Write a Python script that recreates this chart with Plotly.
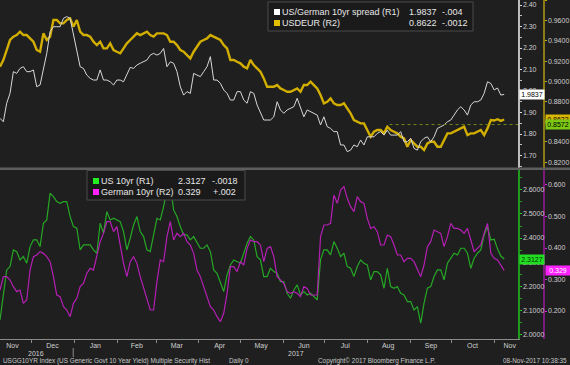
import pandas as pd
import plotly.graph_objects as go

# ---------------- data ----------------
START, END = "2016-11-08", "2017-11-08"

spread = [  # US/German 10yr spread (R1)
    1.873, 1.857, 1.943, 1.989, 2.090, 2.082, 2.105, 2.113, 2.090, 2.090,
    2.098, 2.020, 2.028, 2.105, 2.175, 2.276, 2.299, 2.299, 2.299, 2.338,
    2.346, 2.338, 2.260, 2.183, 2.113, 2.105, 2.074, 2.059, 2.051, 2.051,
    2.098, 2.051, 2.051, 2.043, 2.028, 2.051, 2.051, 2.043, 2.074, 2.110,
    2.105, 2.121, 2.129, 2.136, 2.144, 2.167, 2.175, 2.167, 2.175, 2.198,
    2.113, 2.136, 2.129, 2.090, 2.020, 1.981, 1.997, 1.989, 2.082, 2.074,
    2.067, 2.090, 2.113, 2.160, 2.051, 2.051, 2.036, 2.005, 1.989, 1.958,
    1.958, 1.997, 1.997, 1.958, 1.943,
    1.997, 1.989, 1.935, 1.896, 1.865, 1.865, 1.865, 1.880, 1.950, 1.912,
    1.896, 1.912, 1.919, 1.927, 1.966, 1.927, 1.880, 1.912, 1.904, 1.896,
    1.888, 1.842, 1.880, 1.834, 1.826, 1.811, 1.811, 1.749, 1.749, 1.718,
    1.725, 1.749, 1.741, 1.772, 1.749, 1.787, 1.787, 1.787, 1.803, 1.811,
    1.795, 1.818, 1.795, 1.795, 1.795, 1.811, 1.764, 1.764, 1.780, 1.733,
    1.725, 1.764, 1.780, 1.787, 1.764, 1.787, 1.826, 1.834, 1.842, 1.857,
    1.865, 1.888, 1.912, 1.927, 1.912, 1.888, 1.935, 1.950, 1.950, 1.958,
    1.989, 2.043, 2.035,
    2.005, 2.014, 1.981, 1.984,
]

usdeur = [  # USDEUR (R2)
    0.9145, 0.9211, 0.9310, 0.9409, 0.9442, 0.9458, 0.9491, 0.9458, 0.9458, 0.9425,
    0.9392, 0.9310, 0.9293, 0.9475, 0.9409, 0.9442, 0.9607, 0.9607, 0.9574, 0.9574,
    0.9607, 0.9623, 0.9541, 0.9607, 0.9491, 0.9458, 0.9458, 0.9442, 0.9392, 0.9359,
    0.9392, 0.9326, 0.9326, 0.9376, 0.9310, 0.9293, 0.9277, 0.9326, 0.9376, 0.9409,
    0.9442, 0.9475, 0.9458, 0.9475, 0.9491, 0.9458, 0.9442, 0.9475, 0.9475, 0.9475,
    0.9458, 0.9392, 0.9392, 0.9359, 0.9310, 0.9293, 0.9260, 0.9227, 0.9293, 0.9343,
    0.9392, 0.9409, 0.9425, 0.9458, 0.9442, 0.9425, 0.9409, 0.9359, 0.9326, 0.9211,
    0.9211, 0.9194, 0.9178, 0.9145, 0.9128,
    0.9211, 0.9161, 0.9128, 0.9095, 0.9029, 0.8947, 0.8947, 0.8947, 0.8963, 0.8930,
    0.8914, 0.8897, 0.8897, 0.8914, 0.8930, 0.8897, 0.8963, 0.8963, 0.8996, 0.8963,
    0.8930, 0.8864, 0.8782, 0.8798, 0.8831, 0.8782, 0.8765, 0.8765, 0.8782, 0.8732,
    0.8683, 0.8617, 0.8600, 0.8584, 0.8584, 0.8518, 0.8452, 0.8501, 0.8518, 0.8518,
    0.8485, 0.8551, 0.8518, 0.8501, 0.8485, 0.8452, 0.8435, 0.8353, 0.8419, 0.8386,
    0.8353, 0.8353, 0.8320, 0.8386, 0.8402, 0.8402, 0.8353, 0.8353, 0.8419, 0.8485,
    0.8485, 0.8501, 0.8518, 0.8534, 0.8551, 0.8468, 0.8485, 0.8485, 0.8501, 0.8518,
    0.8468, 0.8534, 0.8617,
    0.8612, 0.8625, 0.8608, 0.8622,
]

us10 = [  # US 10yr (R1)
    2.0595, 2.1565, 2.2674, 2.2813, 2.3506, 2.3436, 2.3090, 2.3228, 2.2951, 2.3644,
    2.3921, 2.3921, 2.3644, 2.4614, 2.4753, 2.5862, 2.5723, 2.5515, 2.5446, 2.5515,
    2.5515, 2.4892, 2.4476, 2.4406, 2.3506, 2.3713, 2.3713, 2.3713, 2.3506, 2.3367,
    2.4614, 2.4199, 2.5099, 2.4753, 2.4822, 2.4753, 2.4684, 2.4268, 2.3506, 2.3991,
    2.4545, 2.4892, 2.4268, 2.4060, 2.3506, 2.3436, 2.4129, 2.4822, 2.4753, 2.5307,
    2.6000, 2.6208, 2.5169, 2.4892, 2.4476, 2.4129, 2.4129, 2.3921, 2.4060, 2.3783,
    2.3575, 2.3575, 2.3713, 2.3436, 2.2674, 2.2535, 2.2120, 2.1773, 2.2466, 2.2882,
    2.3090, 2.3021, 2.2951, 2.3367, 2.3783,
    2.4060, 2.3921, 2.3228, 2.3090, 2.2397, 2.2397, 2.2743, 2.2605, 2.2535, 2.2189,
    2.2189, 2.1704, 2.1496, 2.1842, 2.2050, 2.1634, 2.1773, 2.1634, 2.1704, 2.1565,
    2.1427, 2.3090, 2.3506, 2.3506, 2.3298, 2.3852, 2.3575, 2.3228, 2.3367, 2.2813,
    2.2743, 2.2397, 2.2813, 2.3090, 2.2951, 2.2882, 2.2258, 2.2605, 2.2605, 2.2466,
    2.1912, 2.2743, 2.1981, 2.1912, 2.1981, 2.1704, 2.1634, 2.1357, 2.1357, 2.1011,
    2.1149, 2.0456, 2.1288, 2.1912, 2.1981, 2.2397, 2.2674, 2.2674, 2.2258, 2.2951,
    2.3159, 2.3367, 2.3298, 2.3575, 2.3575, 2.3367, 2.2743, 2.3159, 2.3367, 2.3506,
    2.4129, 2.4476, 2.3921,
    2.3950, 2.3550, 2.3250, 2.3127,
]

de10 = [  # German 10yr (R2)
    0.2666, 0.3090, 0.3090, 0.2984, 0.2772, 0.2614, 0.2666, 0.2243, 0.2349, 0.3301,
    0.3725, 0.3778, 0.3883, 0.3830, 0.3725, 0.3566, 0.3090, 0.2508, 0.2455, 0.2137,
    0.2032, 0.1820, 0.2243, 0.2402, 0.2772, 0.2878, 0.3196, 0.3354, 0.3301, 0.3778,
    0.4201, 0.4465, 0.4836, 0.4836, 0.4518, 0.4677, 0.4042, 0.3513, 0.3090, 0.3566,
    0.3725, 0.3513, 0.3090, 0.2719, 0.2402, 0.2032, 0.2032, 0.2931, 0.3619, 0.3566,
    0.4360, 0.4836, 0.4254, 0.4465, 0.4360, 0.4465, 0.4201, 0.4095, 0.3830, 0.3301,
    0.3090, 0.2772, 0.2508, 0.2137, 0.2032, 0.1820, 0.1661, 0.1926, 0.2561, 0.3407,
    0.3407, 0.3248, 0.3566, 0.3460, 0.3989,
    0.4254, 0.4201, 0.4201, 0.4095, 0.3566, 0.3989, 0.4042, 0.3725, 0.3090, 0.2984,
    0.2878, 0.2614, 0.2561, 0.2614, 0.2561, 0.2455, 0.2772, 0.2719, 0.2508, 0.2508,
    0.2508, 0.4360, 0.4730, 0.4730, 0.4783, 0.5682, 0.5418, 0.5841, 0.5947, 0.5577,
    0.5312, 0.5153, 0.5629, 0.5471, 0.5418, 0.4942, 0.4624, 0.4677, 0.4518, 0.4095,
    0.4095, 0.4413, 0.4360, 0.4095, 0.3778, 0.3778, 0.3566, 0.3672, 0.3672, 0.3566,
    0.3301, 0.3090, 0.3460, 0.4042, 0.4201, 0.4571, 0.4518, 0.4465, 0.4042, 0.4360,
    0.4783, 0.4624, 0.4624, 0.4571, 0.4465, 0.4624, 0.4254, 0.3883, 0.3989, 0.4095,
    0.4465, 0.4783, 0.3830,
    0.3670, 0.3620, 0.3460, 0.3290,
]

month_labels = ["Nov", "Dec", "Jan", "Feb", "Mar", "Apr", "May", "Jun", "Jul",
                "Aug", "Sep", "Oct", "Nov"]
month_label_dates = ["2016-11-17", "2016-12-16", "2017-01-16", "2017-02-15",
                     "2017-03-16", "2017-04-16", "2017-05-16", "2017-06-16",
                     "2017-07-16", "2017-08-16", "2017-09-16", "2017-10-16",
                     "2017-11-12"]
year_labels = ["2016", "2017"]
year_label_dates = ["2016-12-04", "2017-06-10"]

last_spread, chg_spread = "1.9837", "-.004"
last_usdeur, chg_usdeur = "0.8622", "-.0012"
ref_usdeur = 0.8572
last_us10, chg_us10 = "2.3127", "-.0018"
last_de10, chg_de10 = "0.329", "+.002"

# ---------------- figure ----------------
W, H, BOT = 570, 365, 26
PH = H - BOT


def px(x):
    return x / W


def py(y):
    return 1 - y / PH


BG = "#1f1f1f"
FONT = "Liberation Sans"
XR = ["2016-11-08", "2017-11-18"]
XD = 518 / W
XP2 = 543 / W

C_GRAY = "#d8d8d8"
C_YEL = "#d2ae00"
C_GRN = "#26a826"
C_MAG = "#b41fb4"

fig = go.Figure()
fig.add_trace(go.Scatter(x=pd.date_range(START, END, periods=len(usdeur)), y=usdeur,
                         xaxis="x2", yaxis="y", mode="lines",
                         line=dict(color=C_YEL, width=2.4)))
fig.add_trace(go.Scatter(x=pd.date_range(START, END, periods=len(spread)), y=spread,
                         xaxis="x2", yaxis="y2", mode="lines",
                         line=dict(color=C_GRAY, width=1)))
fig.add_trace(go.Scatter(x=pd.date_range(START, END, periods=len(us10)), y=us10,
                         xaxis="x", yaxis="y3", mode="lines",
                         line=dict(color=C_GRN, width=1.2)))
fig.add_trace(go.Scatter(x=pd.date_range(START, END, periods=len(de10)), y=de10,
                         xaxis="x", yaxis="y4", mode="lines",
                         line=dict(color=C_MAG, width=1.2)))

tickfont = dict(family=FONT, size=7, color="#cfcfcf")
top_dom = [py(168), 1]
bot_dom = [0, py(170)]

fig.update_layout(
    width=W, height=H, paper_bgcolor=BG, plot_bgcolor=BG,
    margin=dict(l=0, r=0, t=0, b=BOT), showlegend=False, hovermode=False,
    font=dict(family=FONT, color="#cfcfcf"),
    xaxis=dict(domain=[0, XD], anchor="y3", range=XR, type="date",
               tickmode="array", tickvals=month_label_dates, ticktext=month_labels,
               ticks="", tickfont=tickfont, showgrid=False, zeroline=False,
               showline=True, linecolor="#8a8a8a", linewidth=1,
               minor=dict(dtick="M1", tick0="2016-11-01", ticks="outside",
                          ticklen=3, tickcolor="#8a8a8a", showgrid=False)),
    xaxis2=dict(domain=[0, XD], anchor="y", range=XR, type="date", matches="x",
                showticklabels=False, ticks="", showgrid=False, zeroline=False,
                showline=False),
    # top panel: USDEUR (R2, outer axis)
    yaxis=dict(domain=top_dom, range=[0.8142, 0.9805], side="right",
               anchor="free", position=XP2, tick0=0.82, dtick=0.02,
               tickformat=".4f", ticks="outside", ticklen=2, tickcolor="#c9a800",
               showline=True, linecolor="#8c7a14", linewidth=1.5,
               showgrid=False, zeroline=False, tickfont=tickfont),
    # top panel: spread (R1, inner axis)
    yaxis2=dict(overlaying="y", range=[1.6419, 2.4233], side="right",
                anchor="x2", tick0=1.7, dtick=0.1, tickformat=".2f",
                ticks="outside", ticklen=2, tickcolor="#dddddd",
                showline=True, linecolor="#bdbdbd", linewidth=1.5,
                showgrid=False, zeroline=False, tickfont=tickfont,
                minor=dict(dtick=0.05, tick0=1.65, ticks="outside", ticklen=2,
                           tickcolor="#bdbdbd", showgrid=False)),
    # bottom panel: US 10yr (R1)
    yaxis3=dict(domain=bot_dom, range=[1.980, 2.683], side="right",
                anchor="x", tick0=2.0, dtick=0.1, tickformat=".4f",
                ticks="outside", ticklen=2, tickcolor="#22cc22",
                showline=True, linecolor="#1f9a1f", linewidth=1.5,
                showgrid=False, zeroline=False, tickfont=tickfont,
                minor=dict(dtick=0.05, tick0=2.05, ticks="outside", ticklen=2,
                           tickcolor="#1f9a1f", showgrid=False)),
    # bottom panel: German 10yr (R2)
    yaxis4=dict(overlaying="y3", range=[0.1111, 0.6476], side="right",
                anchor="free", position=XP2, tick0=0.2, dtick=0.1,
                tickformat=".3f", ticks="outside", ticklen=2, tickcolor="#dd22dd",
                showline=True, linecolor="#7a1a7a", linewidth=1.5,
                showgrid=False, zeroline=False, tickfont=tickfont),
)

shapes = []
# separator between panels
shapes.append(dict(type="rect", xref="paper", yref="paper", x0=0, x1=1,
                   y0=py(170), y1=py(167.5), fillcolor="#5e5e5e", line_width=0,
                   layer="above"))
# dotted reference line on USDEUR
shapes.append(dict(type="line", xref="x2", yref="y", x0="2017-08-17", x1=XR[1],
                   y0=ref_usdeur, y1=ref_usdeur,
                   line=dict(color="#6f8a1c", width=1, dash="dot")))
# year separator under the axis
shapes.append(dict(type="line", xref="x", yref="paper", x0="2016-12-31",
                   x1="2016-12-31", y0=py(348), y1=py(357),
                   line=dict(color="#8a8a8a", width=1)))
# legend boxes
shapes.append(dict(type="rect", xref="paper", yref="paper", x0=px(268), x1=px(473),
                   y0=py(31), y1=py(2), fillcolor="#1a1a1a",
                   line=dict(color="#4a4a4a", width=1), layer="above"))
shapes.append(dict(type="rect", xref="paper", yref="paper", x0=px(87), x1=px(245),
                   y0=py(200), y1=py(170.5), fillcolor="#1a1a1a",
                   line=dict(color="#4a4a4a", width=1), layer="above"))
# legend swatches
for (x0, y0, col) in [(274, 9, "#ffffff"), (274, 20, "#e2c000"),
                      (93, 178, "#22ee22"), (93, 189, "#ff22ff")]:
    shapes.append(dict(type="rect", xref="paper", yref="paper", x0=px(x0),
                       x1=px(x0 + 6), y0=py(y0 + 6), y1=py(y0), fillcolor=col,
                       line_width=0, layer="above"))
fig.update_layout(shapes=shapes)

ann = []
lf = dict(family=FONT, size=9, color="#e6e6e6")


def txt(x, y, s, font=lf, xanchor="left"):
    ann.append(dict(xref="paper", yref="paper", x=px(x), y=py(y), text=s,
                    showarrow=False, xanchor=xanchor, yanchor="middle", font=font))


txt(280, 12, "US/German 10yr spread (R1)")
txt(407, 12, last_spread)
txt(440, 12, chg_spread)
txt(280, 23, "USDEUR (R2)")
txt(407, 23, last_usdeur)
txt(440, 23, chg_usdeur)
txt(99, 181, "US 10yr (R1)")
txt(176, 181, last_us10)
txt(210, 181, chg_us10)
txt(99, 192, "German 10yr (R2)")
txt(176, 192, last_de10)
txt(211, 192, chg_de10)

# last value tags on the axes
for (xpx, yref, val, label, bg, fc) in [
        (519, "y2", float(last_spread), last_spread, "#ffffff", "#000000"),
        (545, "y", float(last_usdeur), last_usdeur, "#d8b800", "#000000"),
        (545, "y", ref_usdeur, f"{ref_usdeur:.4f}", "#7cc814", "#000000"),
        (519, "y3", float(last_us10), last_us10, "#22dd22", "#003300"),
        (545, "y4", float(last_de10), last_de10, "#ff22ff", "#ffffff")]:
    ann.append(dict(xref="paper", yref=yref, x=px(xpx), y=val, text=label,
                    showarrow=False, xanchor="left", yanchor="middle",
                    bgcolor=bg, borderpad=1, width=22,
                    font=dict(family=FONT, size=7, color=fc)))

# year labels
for d, s in zip(year_label_dates, year_labels):
    ann.append(dict(xref="x", yref="paper", x=d, y=py(353), text=s,
                    showarrow=False, xanchor="center", yanchor="middle",
                    font=dict(family=FONT, size=7, color="#cfcfcf")))

# footer
ff = dict(family=FONT, size=6.4, color="#c8c8c8")
txt(1, 360.5, "USGG10YR Index (US Generic Govt 10 Year Yield) Multiple Security Hist", ff)
txt(227, 360.5, "Daily 0", ff)
txt(316, 360.5, "Copyright\u00a9 2017 Bloomberg Finance L.P.", ff)
txt(569, 360.5, "08-Nov-2017 10:38:35", ff, xanchor="right")

fig.update_layout(annotations=ann)
fig.write_html("out.html", config={"displayModeBar": False, "staticPlot": True},
               post_script="document.body.style.margin='0';"
                           "document.body.style.overflow='hidden';"
                           "document.body.style.background='#1f1f1f';")
